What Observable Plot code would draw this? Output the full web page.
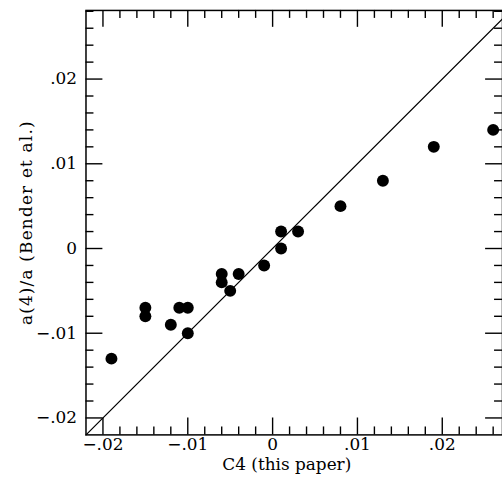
<!DOCTYPE html>
<html>
<head>
<meta charset="utf-8">
<script src="https://cdn.jsdelivr.net/npm/d3@7"></script>
<script src="https://cdn.jsdelivr.net/npm/@observablehq/plot@0.6"></script>
<style>
  html, body { margin: 0; padding: 0; background: white; overflow: hidden; }
  #wrap { width: 502px; height: 480px; overflow: hidden; }
</style>
</head>
<body>
<div id="wrap"></div>
<script>
// Data
const c4 = [-0.019, -0.015, -0.015, -0.012, -0.011, -0.010, -0.010, -0.006, -0.006, -0.005, -0.004, -0.001, 0.001, 0.001, 0.003, 0.008, 0.013, 0.019, 0.026];
const a4 = [-0.013, -0.007, -0.008, -0.009, -0.007, -0.007, -0.010, -0.003, -0.004, -0.005, -0.003, -0.002, 0.002, 0.000, 0.002, 0.005, 0.008, 0.012, 0.014];

const majorTicks = [-0.02, -0.01, 0, 0.01, 0.02];
const tickLabels = ["\u2212.02", "\u2212.01", "0", ".01", ".02"];
const xTitle = "C4 (this paper)";
const yTitle = "a(4)/a (Bender et al.)";

const xDomain = [-0.022, 0.0271];
const yDomain = [-0.022, 0.0281];

const isMajor = v => majorTicks.some(m => Math.abs(m - v) < 1e-9);
const minorX = d3.range(-10, 14).map(i => +(i * 0.002).toFixed(3)).filter(v => v > xDomain[0] && v < xDomain[1] && !isMajor(v));
const minorY = d3.range(-10, 15).map(i => +(i * 0.002).toFixed(3)).filter(v => v > yDomain[0] && v < yDomain[1] && !isMajor(v));

const points = c4.map((x, i) => ({x, y: a4[i]}));
const diag = xDomain.map(v => ({x: v, y: v}));

const fmt = d => tickLabels[majorTicks.indexOf(d)];

const W = 505, H = 480, ML = 86, MR = 0, MT = 10, MB = 43;
const fw = W - ML - MR, fh = H - MT - MB;
const majorLen = 17, minorLen = 8;

const plot = Plot.plot({
  width: W,
  height: H,
  marginLeft: ML,
  marginRight: MR,
  marginTop: MT,
  marginBottom: MB,
  style: {fontFamily: "DejaVu Serif", fontSize: "17px", color: "black", background: "white"},
  x: {domain: xDomain, axis: null, label: null},
  y: {domain: yDomain, axis: null, label: null},
  marks: [
    Plot.frame({stroke: "black", strokeWidth: 1.5}),
    // inward ticks on all four sides
    Plot.ruleX(majorTicks, {x: d => d, insetTop: fh - majorLen, stroke: "black", strokeWidth: 1.4}),
    Plot.ruleX(minorX, {x: d => d, insetTop: fh - minorLen, stroke: "black", strokeWidth: 1.4}),
    Plot.ruleX(majorTicks, {x: d => d, insetBottom: fh - majorLen, stroke: "black", strokeWidth: 1.4}),
    Plot.ruleX(minorX, {x: d => d, insetBottom: fh - minorLen, stroke: "black", strokeWidth: 1.4}),
    Plot.ruleY(majorTicks, {y: d => d, insetRight: fw - majorLen, stroke: "black", strokeWidth: 1.4}),
    Plot.ruleY(minorY, {y: d => d, insetRight: fw - minorLen, stroke: "black", strokeWidth: 1.4}),
    Plot.ruleY(majorTicks, {y: d => d, insetLeft: fw - majorLen, stroke: "black", strokeWidth: 1.4}),
    Plot.ruleY(minorY, {y: d => d, insetLeft: fw - minorLen, stroke: "black", strokeWidth: 1.4}),
    // tick labels
    Plot.axisX({anchor: "bottom", ticks: majorTicks, tickSize: 0, tickPadding: 3, tickFormat: fmt, fontSize: 17, label: null}),
    Plot.axisY({anchor: "left", ticks: majorTicks, tickSize: 0, tickPadding: 9, tickFormat: fmt, fontSize: 17, label: null}),
    // axis titles
    Plot.text([xTitle], {frameAnchor: "bottom", dy: 35, dx: -7.5, text: d => d, fontSize: 17}),
    Plot.text([yTitle], {frameAnchor: "left", rotate: -90, dx: -60, text: d => d, fontSize: 17,
      textAnchor: "middle", lineAnchor: "middle"}),
    // identity line and points
    Plot.line(diag, {x: "x", y: "y", stroke: "black", strokeWidth: 1.3}),
    Plot.dot(points, {x: "x", y: "y", r: 6, fill: "black", stroke: "none"})
  ]
});
// widen the letter spacing of the y title to match the original typesetting
plot.querySelectorAll("text").forEach(t => {
  if (t.textContent === yTitle) t.style.letterSpacing = "1.2px";
});
document.getElementById("wrap").appendChild(plot);
</script>
</body>
</html>
